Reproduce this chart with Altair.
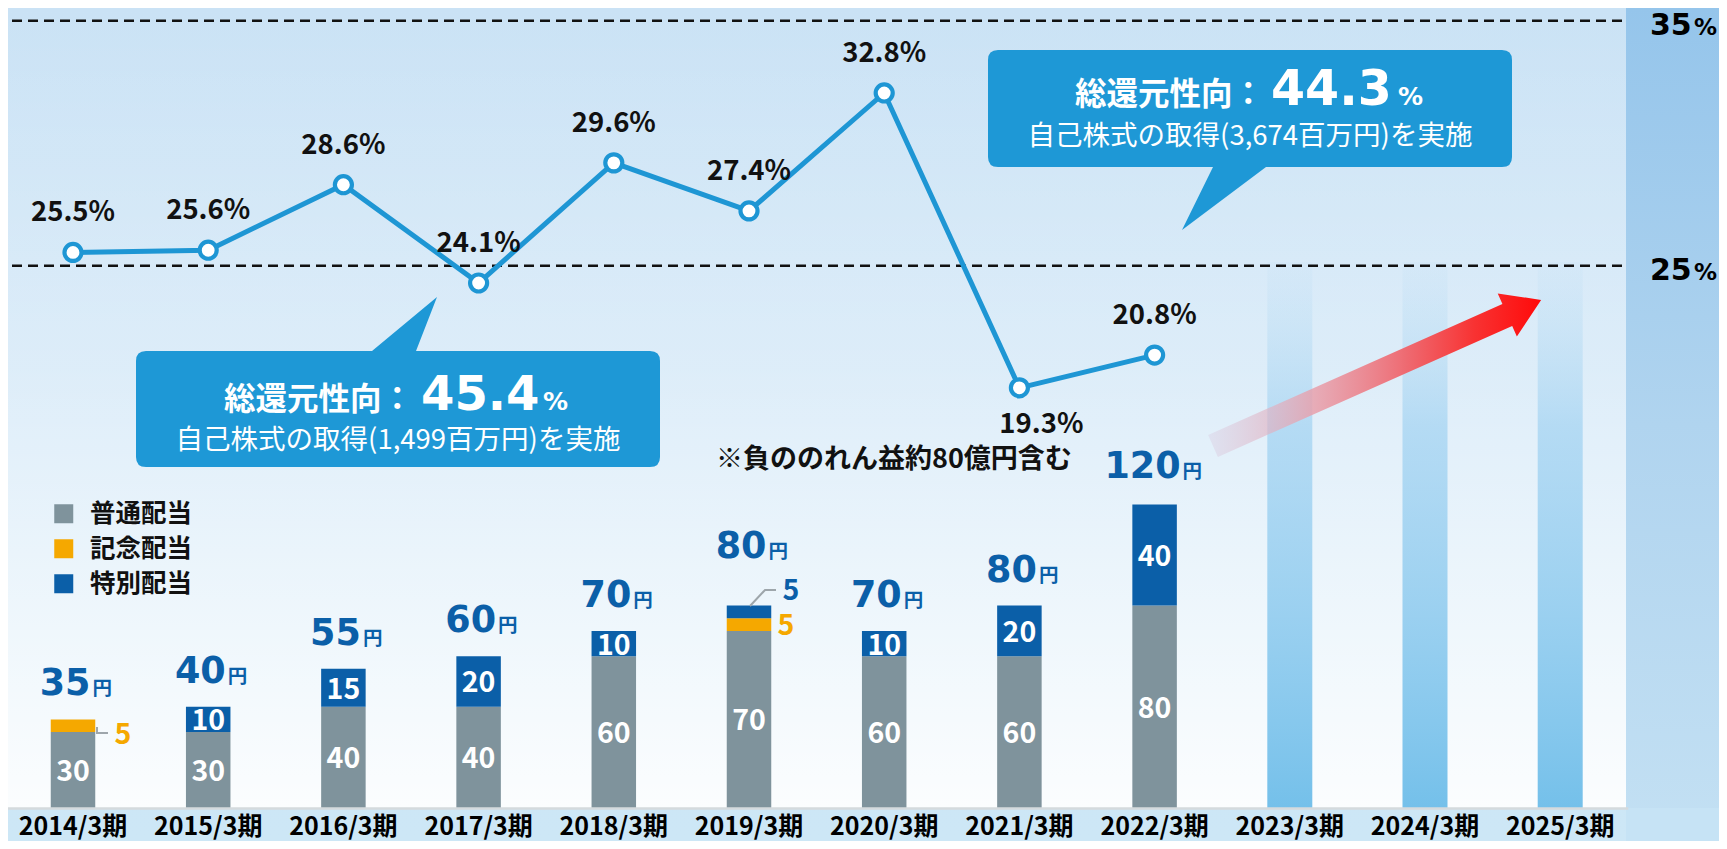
import altair as alt
import pandas as pd

# ---------------- data ----------------
years = ["2014/3期", "2015/3期", "2016/3期", "2017/3期", "2018/3期", "2019/3期",
         "2020/3期", "2021/3期", "2022/3期", "2023/3期", "2024/3期", "2025/3期"]
actual_years = years[:9]
future_years = years[9:]
series_names = ["普通配当", "記念配当", "特別配当"]
regular = [30, 30, 40, 40, 60, 70, 60, 60, 80]
commemorative = [5, 0, 0, 0, 0, 5, 0, 0, 0]
special = [0, 10, 15, 20, 10, 5, 10, 20, 40]
totals = [35, 40, 55, 60, 70, 80, 70, 80, 120]
payout = [25.5, 25.6, 28.6, 24.1, 29.6, 27.4, 32.8, 19.3, 20.8]
ref_levels = [35, 25]
yen = "円"
pct = "%"
note_text = "※負ののれん益約80億円含む"
bubble_title = "総還元性向："
bubble1_value = "45.4"
bubble1_sub = "自己株式の取得(1,499百万円)を実施"
bubble2_value = "44.3"
bubble2_sub = "自己株式の取得(3,674百万円)を実施"

# ---------------- styling / geometry ----------------
CJK = "Noto Sans CJK JP"
NUM = "DejaVu Sans"
GRAY = "#7f939c"
ORANGE = "#f5a800"
NAVY = "#0b5fa8"
BUBBLE = "#1e98d6"
LINE = "#1e96d4"

W, HT = 1711, 833
OFF = 8  # page margin: reference pixel X/Y -> plot pixel X-8 / Y-8


def px(v):
    return round(v - OFF, 2)


def py(v):
    return round(v - OFF, 2)


H = 800
PB = HT - H

XSCALE = alt.Scale(domain=years, range=[px(5.4), px(1627.8)], paddingInner=0, paddingOuter=0)
XAXIS = alt.Axis(title=None, labelAngle=0, labelFont=CJK, labelFontSize=25, labelFontWeight="bold",
                 labelColor="#000000", ticks=False, domain=True, domainColor="#d4dadd",
                 domainWidth=2.5, labelPadding=6, grid=False, zindex=1)
XENC = alt.X("year:N", scale=XSCALE, axis=XAXIS)
YB = alt.Scale(domain=[0, 316.2], nice=False, zero=False)
YL = alt.Scale(domain=[0.062, 36.691], nice=False, zero=False)
YD = alt.Scale(domain=[2.865, 35.518], nice=False, zero=False)

one = alt.Data(values=[{"k": 1}])


def grad(stops, x1=0, y1=0, x2=0, y2=1):
    return alt.LinearGradient(gradient="linear",
                              stops=[alt.GradientStop(offset=o, color=c) for o, c in stops],
                              x1=x1, y1=y1, x2=x2, y2=y2)


def rect_layer(x0, x1, y0, y1, fill):
    return alt.Chart(one).mark_rect(color=fill).encode(
        x=alt.value(x0), x2=alt.value(x1), y=alt.value(y0), y2=alt.value(y1))


def shape_layer(path, ax, ay, **kw):
    return alt.Chart(one).mark_point(shape=path, size=4, opacity=1, **kw).encode(
        x=alt.value(px(ax)), y=alt.value(py(ay)))


def text_layer(text, x, y, **kw):
    return alt.Chart(one).mark_text(text=text, **kw).encode(x=alt.value(px(x)), y=alt.value(py(y)))


def P(X, Y, ax, ay):
    return f"{px(X) - px(ax):.2f},{py(Y) - py(ay):.2f}"


def bubble_path(x0, y0, x1, y1, r, side, b0, b1, apex, anchor):
    ax, ay = anchor
    q = lambda X, Y: P(X, Y, ax, ay)
    parts = [f"M{q(x0 + r, y0)}"]
    if side == "top":
        parts += [f"L{q(b0, y0)}", f"L{q(*apex)}", f"L{q(b1, y0)}"]
    parts += [f"L{q(x1 - r, y0)}", f"Q{q(x1, y0)} {q(x1, y0 + r)}",
              f"L{q(x1, y1 - r)}", f"Q{q(x1, y1)} {q(x1 - r, y1)}"]
    if side == "bottom":
        parts += [f"L{q(b1, y1)}", f"L{q(*apex)}", f"L{q(b0, y1)}"]
    parts += [f"L{q(x0 + r, y1)}", f"Q{q(x0, y1)} {q(x0, y1 - r)}",
              f"L{q(x0, y0 + r)}", f"Q{q(x0, y0)} {q(x0 + r, y0)}", "Z"]
    return " ".join(parts)


def arrow_path(p0, u, shaft, head_s, head_w, length):
    n = (-u[1], u[0])
    loc = [(0, -shaft), (head_s, -shaft), (head_s, -head_w), (length, 0),
           (head_s, head_w), (head_s, shaft), (0, shaft)]
    pts = []
    for s, t in loc:
        X = p0[0] + s * u[0] + t * n[0]
        Y = p0[1] + s * u[1] + t * n[1]
        pts.append(P(X, Y, *p0))
    return "M" + " L".join(pts) + " Z"


def poly_path(points, anchor):
    return "M" + " L".join(P(X, Y, *anchor) for X, Y in points)


# ---------------- tables ----------------
rows = []
for k, (s, vals) in enumerate(zip(series_names, [regular, commemorative, special])):
    for y, v in zip(actual_years, vals):
        rows.append({"year": y, "series": s, "value": v, "ord": k})
df_long = pd.DataFrame(rows)
df_tot = pd.DataFrame({"year": actual_years, "total": totals})
df_tot["digits"] = df_tot["total"].astype(str)
df_line = pd.DataFrame({"year": actual_years, "payout": payout})
df_ref = pd.DataFrame({"ref": ref_levels, "lbl": [str(v) for v in ref_levels]})
df_fut = pd.DataFrame({"year": future_years})

layers = []

# ---------------- background ----------------
layers.append(rect_layer(0, W, 0, HT, grad([(0, "#c4dff4"), (0.5, "#cce4f6"), (1, "#cde7f6")])))
layers.append(rect_layer(px(1626), W, 0, HT, grad([(0, "#95c5eb"), (0.5, "#b0d4ef"), (1, "#c3e0f3")])))
layers.append(rect_layer(px(1626), W, py(808), HT, "#c6e3f5"))
layers.append(rect_layer(px(6), px(1626), 0, H, grad([(0, "rgba(255,255,255,0.10)"),
                                                      (0.45, "rgba(255,255,255,0.35)"),
                                                      (1, "rgba(255,255,255,0.92)")])))

# future columns
layers.append(alt.Chart(df_fut).mark_bar(
    size=45,
    color=grad([(0, "rgba(175,215,242,0.08)"), (0.3, "rgba(150,205,240,0.6)"), (1, "#74c0ea")])
).encode(x=XENC, y=alt.value(py(262)), y2=alt.value(H)))

# dashed reference lines
layers.append(alt.Chart(df_ref).mark_rule(color="#111111", strokeWidth=2.5, strokeDash=[10, 6]).encode(
    x=alt.value(px(12)), x2=alt.value(px(1626)), y=alt.Y("ref:Q", scale=YD, axis=None)))
layers.append(alt.Chart(df_ref).mark_text(font=NUM, fontSize=30, fontWeight="bold", color="#000000",
                                          align="left", baseline="alphabetic", dy=14).encode(
    x=alt.value(px(1650)), y=alt.Y("ref:Q", scale=YD, axis=None), text="lbl:N"))
layers.append(alt.Chart(df_ref).mark_text(text=pct, font=NUM, fontSize=23, fontWeight="bold",
                                          color="#000000", align="left", baseline="alphabetic",
                                          dy=14).encode(
    x=alt.value(px(1694)), y=alt.Y("ref:Q", scale=YD, axis=None)))

# ---------------- stacked bars ----------------
layers.append(alt.Chart(df_long).transform_filter("datum.value > 0").mark_bar(size=44.5).encode(
    x=XENC,
    y=alt.Y("value:Q", stack="zero", scale=YB, axis=None),
    color=alt.Color("series:N", scale=alt.Scale(domain=series_names, range=[GRAY, ORANGE, NAVY]),
                    legend=alt.Legend(orient="none", legendX=px(51), legendY=py(501),
                                      direction="vertical",
                                      symbolType="square", symbolSize=361, symbolStrokeWidth=0,
                                      labelFont=CJK, labelFontSize=25.5, labelFontWeight="bold",
                                      labelColor="#111111", labelOffset=13.5, rowPadding=8,
                                      title=None, padding=0, labelLimit=400)),
    order=alt.Order("ord:Q", sort="ascending"),
))


def seg_base():
    return alt.Chart(df_long).transform_stack(
        stack="value", groupby=["year"], as_=["v0", "v1"],
        sort=[alt.SortField(field="ord", order="ascending")]
    ).transform_calculate(mid="(datum.v0 + datum.v1) / 2")


layers.append(seg_base().transform_filter("datum.value >= 10").mark_text(
    font=CJK, fontSize=28.5, fontWeight="bold", color="#ffffff", baseline="middle", dy=2).encode(
    x=XENC, y=alt.Y("mid:Q", scale=YB, axis=None), text="value:Q"))


def seg_out(year, series, dx, dy, color):
    return seg_base().transform_filter(
        f"datum.year == '{year}' && datum.series == '{series}'").mark_text(
        font=CJK, fontSize=28.5, fontWeight="bold", color=color, baseline="middle", dx=dx, dy=dy).encode(
        x=XENC, y=alt.Y("mid:Q", scale=YB, axis=None), text="value:Q")


layers.append(seg_out(years[0], series_names[1], 50, 9, ORANGE))
layers.append(seg_out(years[5], series_names[1], 37, 1, ORANGE))
layers.append(seg_out(years[5], series_names[2], 42, -21, NAVY))

# leader lines
layers.append(shape_layer(poly_path([(97, 727), (97, 733), (108, 733)], (97, 733)), 97, 733,
                          filled=False, color="#9ea6ab", strokeWidth=2))
layers.append(shape_layer(poly_path([(750, 606), (765, 590), (776, 590)], (750, 606)), 750, 606,
                          filled=False, color="#9ea6ab", strokeWidth=2))


# totals
def total_layers(expr, dxd, dyb):
    base = alt.Chart(df_tot).transform_filter(expr)
    d = base.mark_text(font=NUM, fontSize=36.5, fontWeight="bold", color=NAVY, align="right",
                       baseline="alphabetic", dx=dxd, dy=dyb).encode(
        x=XENC, y=alt.Y("total:Q", scale=YB, axis=None), text="digits:N")
    e = base.mark_text(text=yen, font=CJK, fontSize=19.5, fontWeight="bold", color=NAVY, align="left",
                       baseline="alphabetic", dx=dxd + 2, dy=dyb).encode(
        x=XENC, y=alt.Y("total:Q", scale=YB, axis=None))
    return [d, e]


layers += total_layers(f"datum.year != '{years[5]}' && datum.total < 100", 17.5, -24)
layers += total_layers(f"datum.year == '{years[5]}'", 17.5, -48)
layers += total_layers("datum.total >= 100", 26, -26)

# ---------------- arrow ----------------
layers.append(shape_layer(
    arrow_path((1213, 446), (0.914, -0.407), 12, 322, 23.5, 359), 1213, 446, filled=True,
    color=grad([(0, "rgba(215,200,222,0.35)"), (0.3, "rgba(232,160,172,0.8)"),
                (0.55, "rgba(238,112,120,0.95)"), (0.8, "#f83232"), (1, "#ff0a0a")],
               x1=0, y1=0, x2=1, y2=0),
    strokeWidth=0))

# ---------------- callouts ----------------
layers.append(shape_layer(bubble_path(136, 351, 660, 467, 10, "top", 372, 416, (437, 297), (398, 409)),
                          398, 409, filled=True, color=BUBBLE, strokeWidth=0))
layers.append(shape_layer(bubble_path(988, 50, 1512, 167, 10, "bottom", 1213, 1266, (1182, 230),
                                      (1250, 108.5)),
                          1250, 108.5, filled=True, color=BUBBLE, strokeWidth=0))

layers.append(text_layer(bubble_title, 413, 410, font=CJK, fontSize=31.5, fontWeight="bold",
                         color="#ffffff", align="right", baseline="alphabetic"))
layers.append(text_layer(bubble1_value, 421, 410, font=NUM, fontSize=48, fontWeight="bold",
                         color="#ffffff", align="left", baseline="alphabetic"))
layers.append(text_layer(pct, 543, 410, font=NUM, fontSize=25, fontWeight="bold",
                         color="#ffffff", align="left", baseline="alphabetic"))
layers.append(text_layer(bubble1_sub, 398, 441, font=CJK, fontSize=27.5, color="#ffffff",
                         align="center", baseline="middle"))

layers.append(text_layer(bubble_title, 1264, 105, font=CJK, fontSize=31.5, fontWeight="bold",
                         color="#ffffff", align="right", baseline="alphabetic"))
layers.append(text_layer(bubble2_value, 1271, 105, font=NUM, fontSize=49, fontWeight="bold",
                         color="#ffffff", align="left", baseline="alphabetic"))
layers.append(text_layer(pct, 1398, 105, font=NUM, fontSize=25, fontWeight="bold",
                         color="#ffffff", align="left", baseline="alphabetic"))
layers.append(text_layer(bubble2_sub, 1250, 137, font=CJK, fontSize=27.5, color="#ffffff",
                         align="center", baseline="middle"))

layers.append(text_layer(note_text, 716, 460, font=CJK, fontSize=27, fontWeight="bold",
                         color="#111111", align="left", baseline="middle"))

# ---------------- payout line ----------------
line_base = alt.Chart(df_line).transform_calculate(lbl="format(datum.payout, '.1f') + '%'")
layers.append(line_base.mark_line(color=LINE, strokeWidth=5).encode(
    x=XENC, y=alt.Y("payout:Q", scale=YL, axis=None)))
layers.append(line_base.mark_point(shape="circle", filled=True, fill="#ffffff", stroke=LINE,
                                   strokeWidth=4.2, size=290, opacity=1).encode(
    x=XENC, y=alt.Y("payout:Q", scale=YL, axis=None)))
layers.append(line_base.transform_filter("datum.payout != 19.3").mark_text(
    font=CJK, fontSize=27.5, fontWeight="bold", color="#111111", baseline="alphabetic", dy=-31).encode(
    x=XENC, y=alt.Y("payout:Q", scale=YL, axis=None), text="lbl:N"))
layers.append(line_base.transform_filter("datum.payout == 19.3").mark_text(
    font=CJK, fontSize=27.5, fontWeight="bold", color="#111111", baseline="alphabetic", dy=45, dx=22).encode(
    x=XENC, y=alt.Y("payout:Q", scale=YL, axis=None), text="lbl:N"))

chart = alt.layer(*layers).resolve_scale(y="independent").properties(
    width=W, height=H,
    autosize=alt.AutoSizeParams(type="none"),
    padding={"left": 0, "right": 0, "top": 0, "bottom": PB},
).configure_view(strokeWidth=0)

chart.save("out.html", embed_options={"renderer": "svg", "actions": False})
